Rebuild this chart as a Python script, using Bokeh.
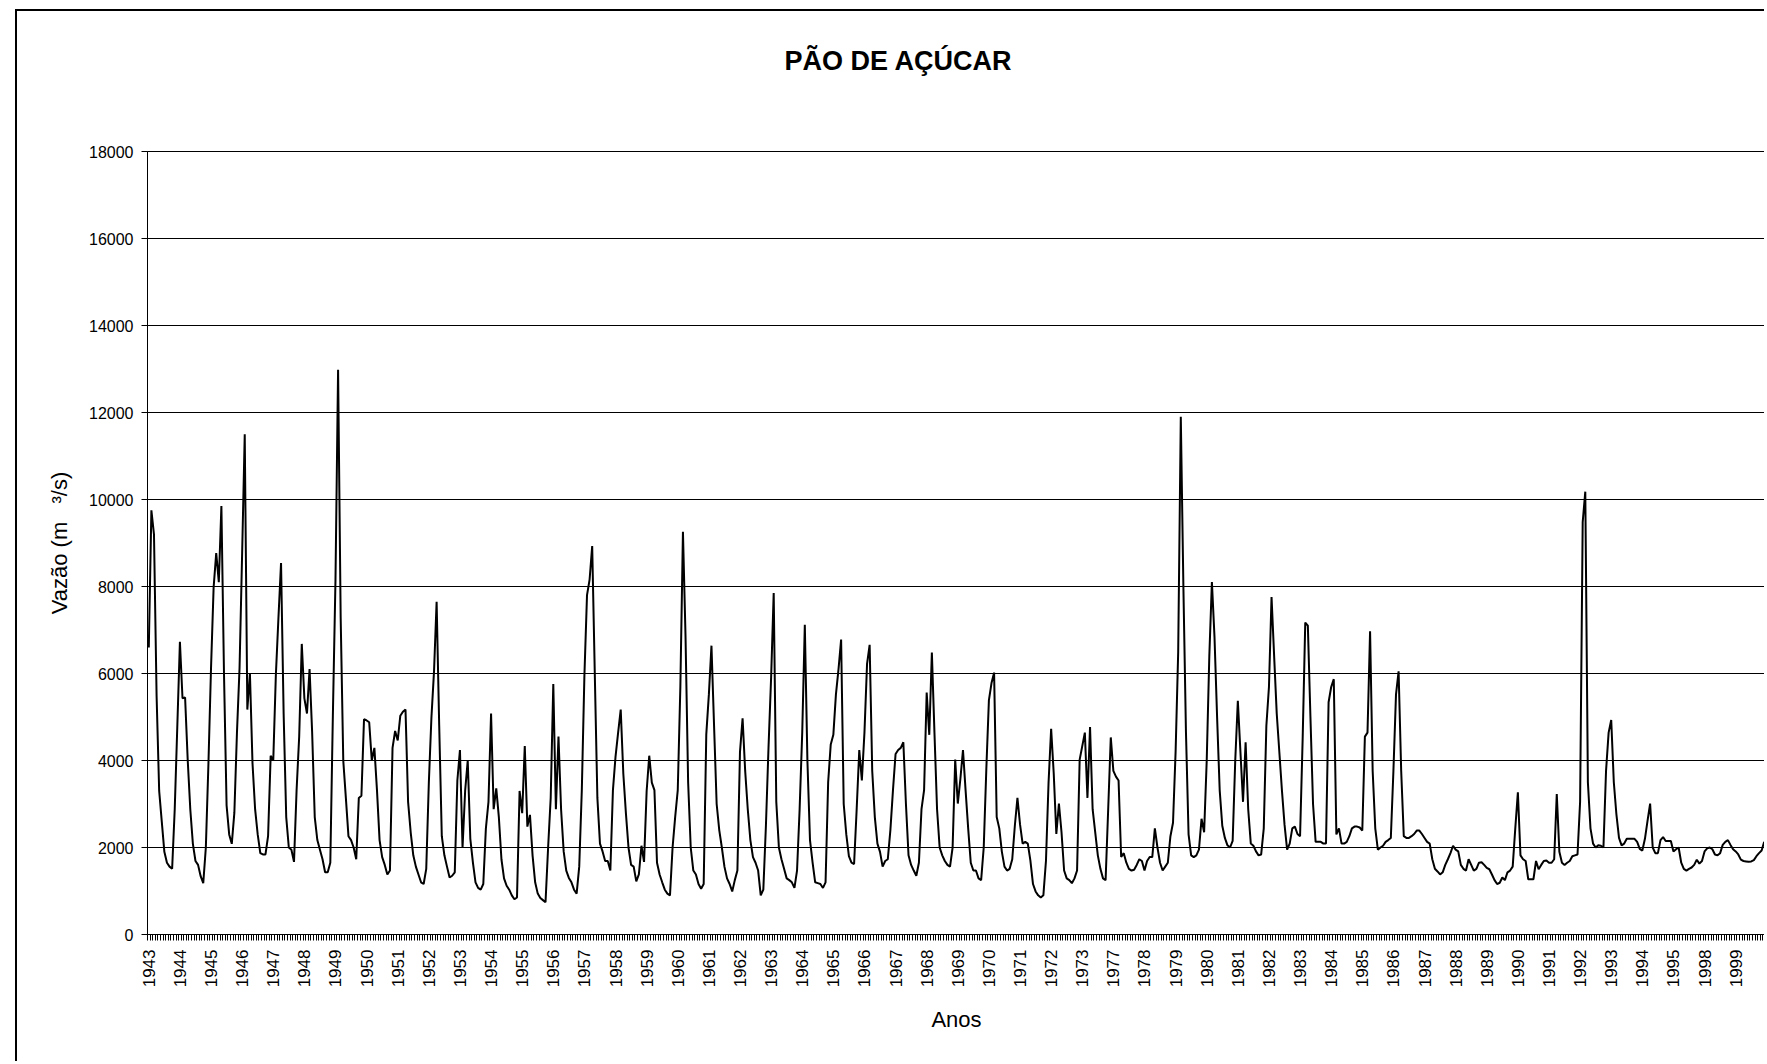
import math
from bokeh.plotting import figure
from bokeh.models import FixedTicker, Range1d, Title
from bokeh.embed import file_html
from bokeh.resources import INLINE

# Category labels (one label every 12 monthly categories)
years = [1943, 1944, 1945, 1946, 1947, 1948, 1949, 1950, 1951, 1952,
         1953, 1954, 1955, 1956, 1957, 1958, 1959, 1960, 1961, 1962,
         1963, 1964, 1965, 1966, 1967, 1968, 1969, 1970, 1971, 1972,
         1973, 1977, 1978, 1979, 1980, 1981, 1982, 1983, 1984, 1985,
         1986, 1987, 1988, 1989, 1990, 1991, 1992, 1993, 1994, 1995,
         1998, 1999]

# Monthly discharge (m3/s), one row of 12 months per labelled year
flow_1940s = [
    [6600, 9750, 9200, 5500, 3300, 2600, 1900, 1650, 1560, 1510, 2880, 4800],
    [6730, 5430, 5450, 4020, 2880, 2085, 1690, 1600, 1340, 1180, 2000, 3930],
    [6130, 7980, 8770, 8100, 9850, 6000, 2970, 2300, 2085, 2800, 4640, 6130],
    [8770, 11500, 5170, 6000, 3930, 2880, 2300, 1870, 1840, 1840, 2260, 4110],
    [4000, 5960, 7280, 8540, 5080, 2700, 2000, 1950, 1670, 3320, 4550, 6680],
    [5430, 5080, 6100, 4640, 2700, 2170, 1950, 1730, 1430, 1430, 1650, 5080],
    [8160, 12980, 7280, 4000, 3140, 2260, 2170, 2000, 1730, 3140, 3190, 4950],
]
flow_1950s = [
    [4920, 4880, 4000, 4290, 3320, 2170, 1780, 1600, 1380, 1470, 4290, 4680],
    [4460, 5030, 5120, 5170, 3050, 2350, 1820, 1560, 1380, 1200, 1160, 1510],
    [3490, 4990, 6050, 7650, 4800, 2260, 1820, 1560, 1310, 1350, 1430, 3540],
    [4240, 2000, 3300, 4000, 2200, 1650, 1200, 1070, 1030, 1160, 2440, 3050],
    [5080, 2880, 3360, 2700, 1730, 1290, 1120, 1030, 900, 810, 850, 3300],
    [2790, 4330, 2480, 2750, 1820, 1200, 940, 840, 790, 740, 2000, 3140],
    [5760, 2880, 4550, 2880, 1910, 1470, 1300, 1200, 1030, 940, 1560, 3320],
    [5960, 7800, 8160, 8930, 6000, 3140, 2090, 1910, 1690, 1690, 1470, 3320],
    [4090, 4640, 5170, 3700, 2790, 2000, 1600, 1560, 1220, 1380, 2040, 1670],
    [3300, 4110, 3490, 3320, 1650, 1380, 1200, 1030, 940, 900, 2000, 2700],
]
flow_1960s = [
    [3320, 5690, 9260, 6840, 3500, 2000, 1470, 1380, 1160, 1050, 1160, 4600],
    [5520, 6640, 4800, 3000, 2400, 2000, 1560, 1290, 1160, 990, 1250, 1470],
    [4200, 4970, 3760, 2880, 2170, 1780, 1650, 1470, 900, 1030, 2500, 4300],
    [5900, 7850, 3050, 2000, 1730, 1510, 1290, 1250, 1200, 1070, 1470, 2880],
    [4640, 7120, 4000, 2170, 1650, 1200, 1180, 1160, 1070, 1200, 3500, 4370],
    [4590, 5520, 6100, 6780, 3000, 2300, 1800, 1650, 1620, 2880, 4240, 3540],
    [4640, 6220, 6660, 3760, 2700, 2090, 1900, 1560, 1690, 1730, 2400, 3320],
    [4150, 4240, 4290, 4420, 3000, 1820, 1600, 1470, 1350, 1650, 2880, 3320],
    [5560, 4590, 6480, 4640, 2880, 2000, 1820, 1690, 1600, 1560, 2000, 4020],
    [3010, 3580, 4240, 3320, 2440, 1650, 1470, 1470, 1290, 1250, 2000, 3800],
]
flow_1970s = [
    [5390, 5780, 6020, 2700, 2440, 1900, 1560, 1470, 1510, 1730, 2500, 3140],
    [2530, 2090, 2130, 2090, 1700, 1160, 990, 900, 850, 900, 1690, 3490],
    [4730, 3700, 2310, 3010, 2350, 1470, 1290, 1250, 1180, 1290, 1470, 4020],
    [4330, 4640, 3140, 4770, 2880, 2350, 1820, 1510, 1290, 1250, 2880, 4530],
    [3760, 3630, 3540, 1780, 1870, 1650, 1510, 1470, 1490, 1600, 1730, 1690],
    [1470, 1690, 1780, 1780, 2440, 2000, 1650, 1470, 1560, 1650, 2260, 2570],
    [4200, 6500, 11900, 8000, 4640, 2300, 1820, 1780, 1820, 1950, 2660, 2350],
]
flow_1980s = [
    [4000, 6400, 8100, 6840, 5000, 3320, 2500, 2220, 2050, 2000, 2150, 4000],
    [5370, 4200, 3050, 4420, 2880, 2090, 2040, 1910, 1820, 1840, 2440, 4800],
    [5690, 7760, 6400, 5080, 4200, 3320, 2530, 1950, 2090, 2440, 2480, 2310],
    [2260, 4500, 7170, 7100, 5000, 3000, 2130, 2130, 2130, 2090, 2090, 5340],
    [5690, 5870, 2300, 2440, 2090, 2090, 2130, 2260, 2440, 2480, 2480, 2460],
    [2390, 4550, 4640, 6970, 3760, 2440, 1950, 2000, 2040, 2130, 2170, 2220],
    [3760, 5520, 6050, 3760, 2260, 2220, 2220, 2260, 2310, 2390, 2390, 2310],
    [2220, 2130, 2090, 1730, 1510, 1450, 1380, 1430, 1600, 1730, 1870, 2040],
    [1950, 1910, 1600, 1510, 1470, 1730, 1600, 1470, 1510, 1650, 1660, 1600],
    [1530, 1500, 1380, 1250, 1160, 1190, 1310, 1250, 1430, 1470, 1560, 2440],
]
flow_1990s = [
    [3270, 1820, 1730, 1690, 1270, 1270, 1270, 1690, 1500, 1600, 1690, 1700],
    [1650, 1650, 1730, 3230, 1900, 1650, 1600, 1650, 1690, 1800, 1820, 1840],
    [3050, 9480, 10180, 3500, 2440, 2090, 2000, 2050, 2040, 2000, 3760, 4640],
    [4930, 3500, 2760, 2220, 2050, 2090, 2200, 2200, 2200, 2200, 2130, 1970],
    [1930, 2200, 2610, 3010, 2000, 1870, 1870, 2170, 2240, 2150, 2150, 2150],
    [1910, 1960, 2000, 1650, 1510, 1470, 1510, 1540, 1600, 1720, 1630, 1690],
    [1910, 1980, 2000, 1960, 1840, 1820, 1870, 2060, 2130, 2170, 2060, 1960],
    [1910, 1840, 1720, 1690, 1680, 1670, 1680, 1710, 1800, 1870, 1930, 2130],
]
y_ticks = [0, 2000, 4000, 6000, 8000, 10000, 12000, 14000, 16000, 18000]

flow = [v for block in (flow_1940s, flow_1950s, flow_1960s, flow_1970s, flow_1980s, flow_1990s)
        for row in block for v in row]
months = list(range(len(flow)))
n_per_year = 12

FONT = "Liberation Sans"

p = figure(width=1749, height=1052,
           x_range=Range1d(-0.5, len(flow) - 0.5), y_range=Range1d(0, 18000),
           output_backend="svg", toolbar_location=None,
           min_border_left=130, min_border_right=1, min_border_top=140, min_border_bottom=129)
p.styles = {"border-left": "2px solid black", "border-top": "2px solid black"}
p.margin = (9, 0, 0, 15)
p.background_fill_color = "white"
p.border_fill_color = "white"
p.outline_line_color = "black"
p.outline_line_width = 1

p.title.text = ""
p.title.standoff = 0

# empty spacer between the plot area and the chart title, then the title itself
p.add_layout(Title(text=" ", text_font_size="1px", standoff=68), "above")
p.add_layout(Title(text="PÃO DE AÇÚCAR", text_font=FONT, text_font_size="27px",
                   text_font_style="bold", text_color="black", align="left",
                   offset=637, standoff=10), "above")

p.line(months, flow, line_color="black", line_width=2)

# x axis: a tick between every monthly category, a label every 12 categories
p.xaxis.ticker = FixedTicker(ticks=[n_per_year * k for k in range(len(years))],
                             minor_ticks=[i - 0.5 for i in range(len(flow) + 1)])
p.xaxis.major_label_overrides = {n_per_year * k: str(y) for k, y in enumerate(years)}
p.xaxis.major_label_orientation = math.pi / 2
p.xaxis.major_tick_line_color = None
p.xaxis.major_tick_out = 6
p.xaxis.major_tick_in = 0
p.xaxis.minor_tick_line_color = "black"
p.xaxis.minor_tick_out = 6
p.xaxis.minor_tick_in = 0
p.xaxis.major_label_standoff = 9
p.xaxis.axis_label = "Anos"
p.xaxis.axis_label_standoff = 17

p.yaxis.ticker = FixedTicker(ticks=y_ticks)
p.yaxis.major_tick_out = 6
p.yaxis.major_tick_in = 0
p.yaxis.minor_tick_line_color = None
p.yaxis.major_label_standoff = 8
p.yaxis.axis_label = "Vazão (m\u00a0\u00a0 ³/s)"
p.yaxis.axis_label_standoff = 14

for ax in (p.xaxis, p.yaxis):
    ax.axis_line_color = "black"
    ax.major_label_text_font = FONT
    ax.major_label_text_color = "black"
    ax.axis_label_text_font = FONT
    ax.axis_label_text_font_size = "22px"
    ax.axis_label_text_font_style = "normal"
    ax.axis_label_text_color = "black"
p.xaxis.major_label_text_font_size = "17px"
p.yaxis.major_label_text_font_size = "16px"
p.yaxis.major_tick_line_color = "black"

p.xgrid.visible = False
p.ygrid.ticker = FixedTicker(ticks=y_ticks)
p.ygrid.grid_line_color = "black"
p.ygrid.grid_line_width = 1

open("out.html", "w").write(file_html(p, INLINE))
